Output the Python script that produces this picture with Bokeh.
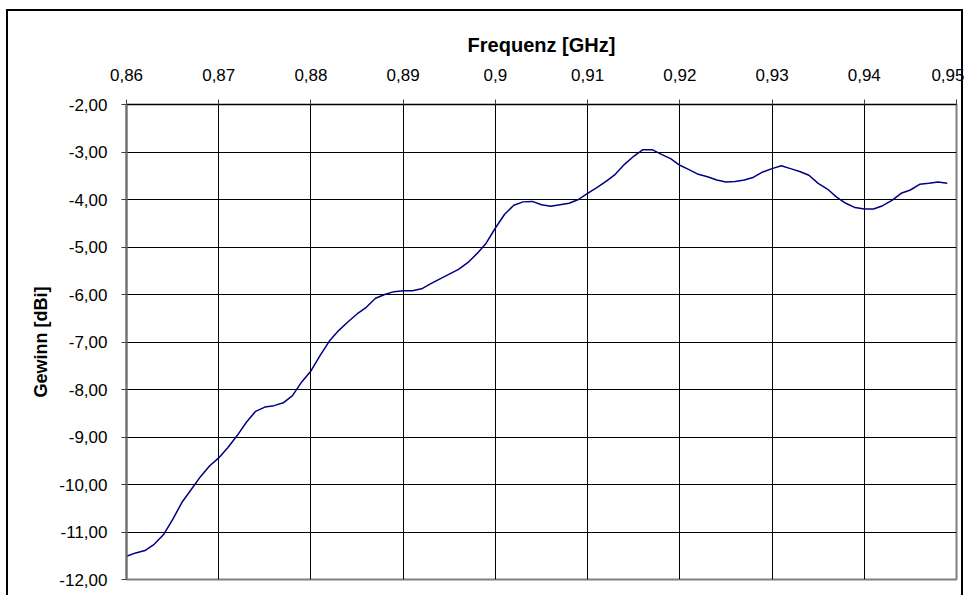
from bokeh.plotting import figure
from bokeh.models import (Range1d, FixedTicker, CustomJSTickFormatter, LinearAxis)
from bokeh.embed import file_html
from bokeh.resources import INLINE

freq = [0.860, 0.861, 0.862, 0.863, 0.864, 0.865, 0.866, 0.867, 0.868, 0.869,
        0.870, 0.871, 0.872, 0.873, 0.874, 0.875, 0.876, 0.877, 0.878, 0.879,
        0.880, 0.881, 0.882, 0.883, 0.884, 0.885, 0.886, 0.887, 0.888, 0.889,
        0.890, 0.891, 0.892, 0.893, 0.894, 0.895, 0.896, 0.897, 0.898, 0.899,
        0.900, 0.901, 0.902, 0.903, 0.904, 0.905, 0.906, 0.907, 0.908, 0.909,
        0.910, 0.911, 0.912, 0.913, 0.914, 0.915, 0.916, 0.917, 0.918, 0.919,
        0.920, 0.921, 0.922, 0.923, 0.924, 0.925, 0.926, 0.927, 0.928, 0.929,
        0.930, 0.931, 0.932, 0.933, 0.934, 0.935, 0.936, 0.937, 0.938, 0.939,
        0.940, 0.941, 0.942, 0.943, 0.944, 0.945, 0.946, 0.947, 0.948, 0.949]

gain = [-11.51, -11.44, -11.39, -11.26, -11.06, -10.74, -10.38, -10.11, -9.84, -9.61,
        -9.44, -9.22, -8.97, -8.69, -8.46, -8.37, -8.34, -8.28, -8.13, -7.84,
        -7.61, -7.28, -6.98, -6.76, -6.58, -6.41, -6.27, -6.08, -6.00, -5.94,
        -5.92, -5.92, -5.88, -5.77, -5.67, -5.57, -5.47, -5.33, -5.14, -4.92,
        -4.60, -4.31, -4.12, -4.05, -4.04, -4.11, -4.14, -4.11, -4.08, -4.00,
        -3.87, -3.75, -3.62, -3.47, -3.26, -3.09, -2.95, -2.95, -3.05, -3.14,
        -3.28, -3.37, -3.47, -3.52, -3.59, -3.63, -3.62, -3.59, -3.53, -3.42,
        -3.35, -3.29, -3.35, -3.41, -3.49, -3.66, -3.78, -3.95, -4.08, -4.17,
        -4.20, -4.20, -4.13, -4.02, -3.87, -3.80, -3.68, -3.66, -3.63, -3.66]

x_ticks = [0.86, 0.87, 0.88, 0.89, 0.90, 0.91, 0.92, 0.93, 0.94, 0.95]
y_ticks = [-12, -11, -10, -9, -8, -7, -6, -5, -4, -3, -2]
x_title = "Frequenz [GHz]"
y_title = "Gewinn [dBi]"

FONT = "Liberation Sans"

p = figure(width=964, height=595, output_backend="svg", toolbar_location=None,
           x_range=Range1d(0.86, 0.95), y_range=Range1d(-12, -2),
           x_axis_location=None, y_axis_location=None,
           min_border_left=126, min_border_right=8,
           min_border_top=104, min_border_bottom=16)
p.background_fill_color = "white"
p.border_fill_color = None
p.outline_line_color = "#808080"
p.outline_line_width = 2
# outer chart-area border (left, top, right edges) drawn behind the canvas
line = "linear-gradient(#000, #000)"
p.styles = {
    "background": (f"{line} 6px 9px / 2px 700px no-repeat, "
                   f"{line} 6px 9px / 957px 2px no-repeat, "
                   f"{line} 961px 9px / 2px 700px no-repeat, white"),
}

xaxis = LinearAxis(ticker=FixedTicker(ticks=x_ticks),
                   formatter=CustomJSTickFormatter(
                       code="return String(Math.round(tick*100)/100).replace('.', ',');"),
                   axis_label=x_title)
yaxis = LinearAxis(ticker=FixedTicker(ticks=y_ticks),
                   formatter=CustomJSTickFormatter(
                       code="return tick.toFixed(2).replace('.', ',');"),
                   axis_label=y_title)
p.add_layout(xaxis, "above")
p.add_layout(yaxis, "left")

for ax in (xaxis, yaxis):
    ax.major_label_text_font = FONT
    ax.major_label_text_font_size = "17px"
    ax.major_label_text_color = "black"
    ax.axis_label_text_font = FONT
    ax.axis_label_text_font_style = "bold"
    ax.axis_label_text_color = "black"
    ax.minor_tick_line_color = None
    ax.major_tick_out = 5
    ax.major_tick_in = 0
    ax.major_tick_line_color = "#404040"

xaxis.axis_label_text_font_size = "20px"
yaxis.axis_label_text_font_size = "18px"
xaxis.axis_line_color = "black"
xaxis.major_label_standoff = 19
xaxis.axis_label_standoff = 10
yaxis.axis_line_color = "#707070"
yaxis.axis_line_width = 2
yaxis.major_label_standoff = 14
yaxis.axis_label_standoff = 5

p.xgrid.ticker = FixedTicker(ticks=x_ticks)
p.ygrid.ticker = FixedTicker(ticks=y_ticks)
p.xgrid.grid_line_color = "black"
p.ygrid.grid_line_color = "black"
p.xgrid.grid_line_width = 1
p.ygrid.grid_line_width = 1

p.line(freq, gain, line_color="#000080", line_width=1.5)

open("out.html", "w").write(file_html(p, INLINE))
